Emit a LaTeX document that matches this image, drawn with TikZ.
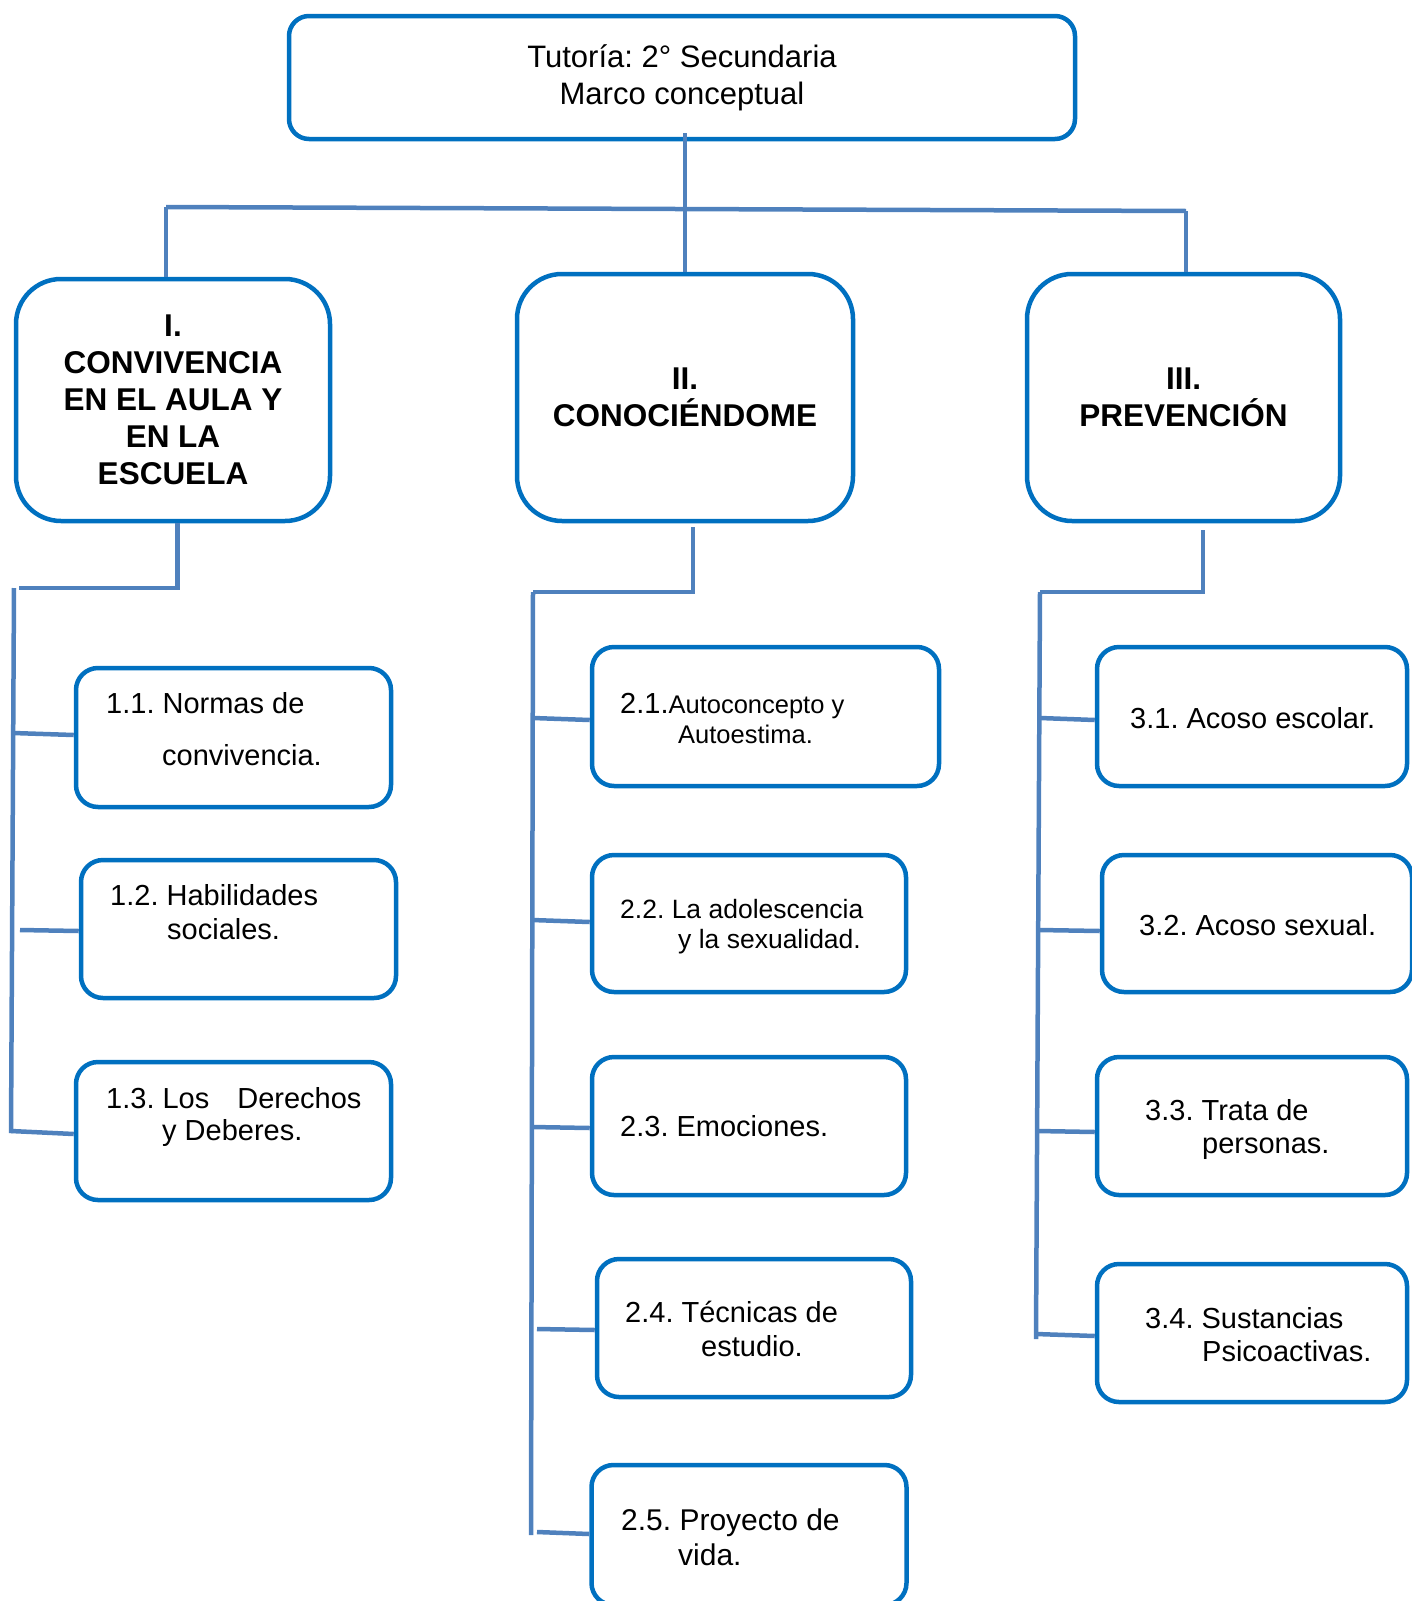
\documentclass[tikz,border=0pt]{standalone}
\usepackage{fontspec}
\setmainfont{Liberation Sans}
\definecolor{boxblue}{HTML}{0070C0}
\definecolor{lineblue}{HTML}{4F81BD}
\frenchspacing
\begin{document}
\frenchspacing
\begin{tikzpicture}[x=1pt,y=-1pt,
  box/.style={draw=boxblue, line width=4.5pt, rounded corners=22pt, fill=white, inner sep=0pt},
  headbox/.style={box, rounded corners=45pt, align=center, font=\fontsize{31.5}{37}\selectfont\bfseries},
  conn/.style={draw=lineblue, line width=4.5pt},
  lbl/.style={anchor=base west, inner sep=0pt, font=\fontsize{29}{34}\selectfont},
  lbls/.style={anchor=base west, inner sep=0pt, font=\fontsize{26.5}{30}\selectfont},
]
\useasboundingbox (0,0) rectangle (1411,1601);

% top box
\node[box, rounded corners=20pt, minimum width=786pt, minimum height=123pt, align=center,
  font=\fontsize{31}{37}\selectfont] (top) at (682,77.5) {Tutoría: 2° Secundaria\\Marco conceptual};

% headers
\node[headbox, minimum width=314pt, minimum height=242pt] (I) at (173,400)
  {I.\\CONVIVENCIA\\EN EL AULA Y\\EN LA\\ESCUELA};
\node[headbox, minimum width=336pt, minimum height=247pt] (II) at (685,397.5)
  {II.\\CONOCIÉNDOME};
\node[headbox, minimum width=313pt, minimum height=247pt] (III) at (1183.5,397.5)
  {III.\\PREVENCIÓN};

% children boxes
\node[box, minimum width=315pt, minimum height=139pt] (b11) at (233.5,737.5) {};
\node[box, minimum width=315pt, minimum height=138pt] (b12) at (238.5,929) {};
\node[box, minimum width=315pt, minimum height=138pt] (b13) at (233.5,1131) {};

\node[box, minimum width=347pt, minimum height=139pt] (b21) at (765.5,716.5) {};
\node[box, minimum width=314pt, minimum height=137pt] (b22) at (749,923.5) {};
\node[box, minimum width=314pt, minimum height=138pt] (b23) at (749,1126) {};
\node[box, minimum width=314pt, minimum height=138pt] (b24) at (754,1328) {};
\node[box, minimum width=315pt, minimum height=140pt] (b25) at (749,1535) {};

\node[box, minimum width=310pt, minimum height=139pt] (b31) at (1252,716.5) {};
\node[box, minimum width=310pt, minimum height=137pt] (b32) at (1257,923.5) {};
\node[box, minimum width=310pt, minimum height=138pt] (b33) at (1252,1126) {};
\node[box, minimum width=310pt, minimum height=138pt] (b34) at (1252,1333) {};

% labels
\node[lbl] (t11a) at (106,713.5) {1.1. Normas de};
\node[lbl] (t11b) at (162,765.5) {convivencia.};
\node[lbl] (t12a) at (110,905.5) {1.2. Habilidades};
\node[lbl] (t12b) at (167,939.5) {sociales.};
\node[lbl] (t13a) at (106,1108.5) {1.3. Los\hspace{28pt}Derechos};
\node[lbl] (t13b) at (162,1140.5) {y Deberes.};

\node[lbl] (t21a) at (620,713) {2.1.{\fontsize{25.5}{30}\selectfont Autoconcepto y}};
\node[lbls, font=\fontsize{25.5}{30}\selectfont] (t21b) at (678,743.5) {Autoestima.};
\node[lbls] (t22a) at (620,918.5) {2.2. La adolescencia};
\node[lbls] (t22b) at (678,948.5) {y la sexualidad.};
\node[lbl] (t23a) at (620,1136.5) {2.3. Emociones.};
\node[lbl] (t24a) at (625,1322.5) {2.4. Técnicas de};
\node[lbl] (t24b) at (701,1356.5) {estudio.};
\node[lbl, font=\fontsize{30}{34}\selectfont] (t25a) at (621,1530) {2.5. Proyecto de};
\node[lbl, font=\fontsize{30}{34}\selectfont] (t25b) at (678,1565) {vida.};

\node[lbl] (t31a) at (1130,728.5) {3.1. Acoso escolar.};
\node[lbl] (t32a) at (1139,935.5) {3.2. Acoso sexual.};
\node[lbl] (t33a) at (1145,1120.5) {3.3. Trata de};
\node[lbl] (t33b) at (1202,1153.5) {personas.};
\node[lbl] (t34a) at (1145,1328.5) {3.4. Sustancias};
\node[lbl] (t34b) at (1202,1361.5) {Psicoactivas.};

% top-level connectors
\coordinate (hl) at (166,207);
\coordinate (hm) at (685,209);
\coordinate (hr) at (1186,211);
\draw[conn] (hl) -- (hr);
\draw[conn] (hm |- top.south) ++(0,-8) -- (hm |- II.north);
\draw[conn] (hl) -- (hl |- I.north);
\draw[conn] (hr) -- (hr |- III.north);

% column 1
\coordinate (c1) at (177.5,588);
\coordinate (s1t) at (14,588);
\coordinate (s1b) at (11,1133);
\draw[conn] (c1 |- I.south) -- (c1) -- (19,588);
\draw[conn] (s1t) -- (s1b);
\draw[conn] (13,733) -- (b11.west |- 0,735);
\draw[conn] (20,930) -- (b12.west |- 0,931);
\draw[conn] (11,1131) -- (b13.west |- 0,1134);

% column 2
\coordinate (c2) at (693,592);
\coordinate (s2t) at (533,592);
\coordinate (s2b) at (531,1535);
\draw[conn] (693,527) -- (c2) -- (s2t);
\draw[conn] (s2t) -- (s2b);
\draw[conn] (533,718) -- (b21.west |- 0,720);
\draw[conn] (532,920) -- (b22.west |- 0,922);
\draw[conn] (532,1127) -- (b23.west |- 0,1128);
\draw[conn] (537,1329) -- (b24.west |- 0,1330);
\draw[conn] (537,1532) -- (b25.west |- 0,1534);

% column 3
\coordinate (c3) at (1203,592);
\coordinate (s3t) at (1040,592);
\coordinate (s3b) at (1036,1339);
\draw[conn] (1203,530) -- (c3) -- (s3t);
\draw[conn] (s3t) -- (s3b);
\draw[conn] (1040,718) -- (b31.west |- 0,720);
\draw[conn] (1039,930) -- (b32.west |- 0,931);
\draw[conn] (1037,1131) -- (b33.west |- 0,1132);
\draw[conn] (1036,1334) -- (b34.west |- 0,1336);
\end{tikzpicture}
\end{document}
